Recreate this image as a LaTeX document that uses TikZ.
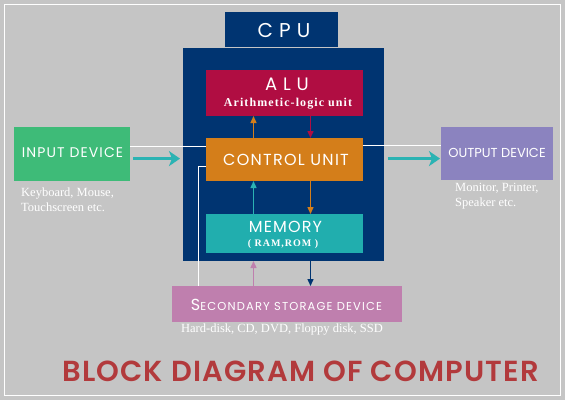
\documentclass[tikz,border=0pt]{standalone}
\usepackage{fontspec}
\setmainfont{Liberation Serif}
\newfontfamily\pop{Poppins}
\newfontfamily\popsb{Poppins}[UprightFont=* SemiBold]
\usetikzlibrary{arrows.meta,calc}
\definecolor{bgc}{HTML}{C5C5C5}
\definecolor{navy}{HTML}{003471}
\definecolor{crim}{HTML}{B00D42}
\definecolor{orng}{HTML}{D47E1A}
\definecolor{teal}{HTML}{21AEAE}
\definecolor{tealarr}{HTML}{2BB3B3}
\definecolor{grn}{HTML}{3EBB78}
\definecolor{purp}{HTML}{8B83BF}
\definecolor{pink}{HTML}{BF7FAE}
\definecolor{ttl}{HTML}{B23A3C}
\tikzset{
  box/.style={draw=none, inner sep=0pt, outer sep=0pt},
  lbl/.style={text=white, inner sep=0pt, font=\pop},
  note/.style={text=white, inner sep=0pt, align=left, font=\fontsize{12.5}{14.5}\selectfont},
  thin arrow/.style={line width=1.4pt, -{Triangle[length=7pt,width=6pt]}},
  big arrow/.style={tealarr, line width=2.6pt, -{Stealth[length=11pt,width=15pt,inset=3pt]}},
  guide/.style={white, line width=0.6pt},
}
\begin{document}
\begin{tikzpicture}[x=1pt,y=-1pt]
\fill[bgc] (0,0) rectangle (565,400);
\useasboundingbox (0,0) rectangle (565,400);
\draw[white, line width=1.5pt] (4.5,4.5) rectangle (560.5,395.5);

% boxes
\node[box, fill=navy, minimum width=113pt, minimum height=35pt] (cput) at (281.5,29.5) {};
\node[box, fill=navy, minimum width=201pt, minimum height=213pt] (cpu) at (283.5,154.5) {};
\node[box, fill=crim, minimum width=156.5pt, minimum height=46pt] (alu) at (284.25,93) {};
\node[box, fill=orng, minimum width=156.5pt, minimum height=43pt] (cu) at (284.25,159.5) {};
\node[box, fill=teal, minimum width=156.5pt, minimum height=39pt] (mem) at (284.25,233.5) {};
\node[box, fill=grn, minimum width=116pt, minimum height=54pt] (in) at (72,154) {};
\node[box, fill=purp, minimum width=112pt, minimum height=53pt] (out) at (497,153.5) {};
\node[box, fill=pink, minimum width=229.5pt, minimum height=35.5pt] (sec) at (286.75,303.75) {};

% labels
\node[lbl, font=\pop\fontsize{20}{20}\selectfont\addfontfeature{LetterSpace=30}] (cpul) at (284,30.5) {CPU};
\node[lbl, font=\pop\fontsize{18}{18}\selectfont\addfontfeature{LetterSpace=32}] (alul) at (287,84.5) {ALU};
\node[lbl, font=\fontsize{12}{12}\selectfont\bfseries\addfontfeature{LetterSpace=9}] (alus) at (288,103.5) {Arithmetic-logic unit};
\node[lbl, font=\pop\fontsize{16}{16}\selectfont\addfontfeature{LetterSpace=8}] (cul) at (286,160) {CONTROL UNIT};
\node[lbl, font=\pop\fontsize{16}{16}\selectfont\addfontfeature{LetterSpace=7}] (meml) at (285.5,227) {MEMORY};
\node[lbl, font=\fontsize{10}{10}\selectfont\bfseries\addfontfeature{LetterSpace=10}] (mems) at (283,243.6) {( RAM,ROM )};
\node[lbl, font=\pop\fontsize{14}{14}\selectfont\addfontfeature{LetterSpace=8}] (inl) at (72.5,153) {INPUT DEVICE};
\node[lbl, font=\pop\fontsize{13}{13}\selectfont] (outl) at (497,153) {OUTPUT DEVICE};
\node[lbl, font=\pop\addfontfeature{LetterSpace=10}] (secl) at (286.5,304.5) {{\fontsize{16}{16}\selectfont S}{\fontsize{11.5}{12}\selectfont ECONDARY STORAGE DEVICE}};

\node[note, anchor=west] (inn) at (21,199.5) {Keyboard, Mouse,\\Touchscreen etc.};
\node[note, anchor=west] (outn) at (455,196) {Monitor, Printer,\\Speaker etc.};
\node[note, font=\fontsize{12.5}{13}\selectfont] (secn) at (282,330) {Hard-disk, CD, DVD, Floppy disk, SSD};

\node[text=ttl, inner sep=0pt, font=\popsb\fontsize{29}{29}\selectfont\addfontfeature{LetterSpace=4}] (title) at (300.5,371.4) {BLOCK DIAGRAM OF COMPUTER};

% helper coordinates
\coordinate (xl) at (253.5,0);
\coordinate (xr) at (310.5,0);
\coordinate (ya) at (0,158.6);
\coordinate (yg) at (0,146);
\coordinate (yh) at (0,145);
\coordinate (yw) at (0,166);
\coordinate (xw) at (198,0);

% guide lines
\draw[guide] (in.east |- yg) -- (cu.west |- yg);
\draw[guide] (cu.east |- yh) -- (out.west |- yh);
\draw[guide] (cu.west |- yw) -- (xw |- yw) -- (sec.north -| xw);

% internal arrows
\draw[thin arrow, orng] (cu.north -| xl) -- (alu.south -| xl);
\draw[thin arrow, crim] (alu.south -| xr) -- (cu.north -| xr);
\draw[thin arrow, tealarr] (mem.north -| xl) -- (cu.south -| xl);
\draw[thin arrow, orng] (cu.south -| xr) -- (mem.north -| xr);
\draw[thin arrow, pink] (sec.north -| xl) -- (cpu.south -| xl);
\draw[thin arrow, navy] (cpu.south -| xr) -- (sec.north -| xr);

% big arrows
\draw[big arrow] ($(in.east |- ya)+(3,0)$) -- ($(cpu.west |- ya)+(-3,0)$);
\draw[big arrow] ($(cpu.east |- ya)+(4,0)$) -- ($(out.west |- ya)+(-1,0)$);
\end{tikzpicture}
\end{document}
